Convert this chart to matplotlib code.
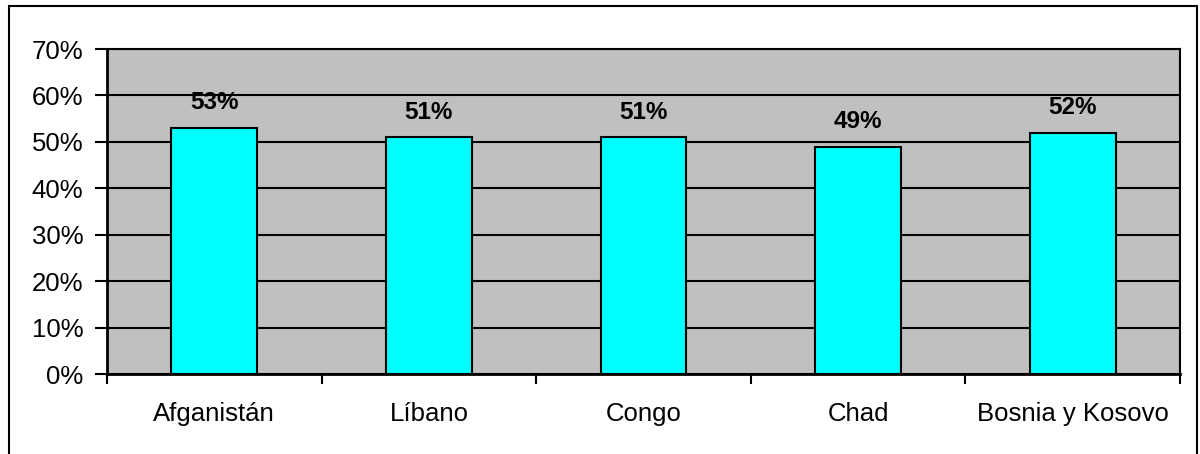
import matplotlib
matplotlib.use("Agg")
import matplotlib.pyplot as plt
from matplotlib.patches import Rectangle
from matplotlib.ticker import FixedLocator, NullFormatter

plt.rcParams['font.family'] = ['Liberation Sans', 'DejaVu Sans']

categories = ["Afganistán", "Líbano", "Congo", "Chad", "Bosnia y Kosovo"]
values = [53, 51, 51, 49, 52]
yticks = [0, 10, 20, 30, 40, 50, 60, 70]
ytick_labels = ["0%", "10%", "20%", "30%", "40%", "50%", "60%", "70%"]

W, H = 1200, 454
fig = plt.figure(figsize=(W / 100, H / 100), dpi=100)
ax = fig.add_axes([107 / W, 1 - 374 / H, (1180 - 107) / W, (374 - 49) / H])
ax.set_facecolor("#C0C0C0")

x = list(range(len(categories)))
ax.set_axisbelow(True)
ax.yaxis.grid(True, color="black", linewidth=1.5)
ax.bar(x, values, width=0.4, color="#00FFFF", edgecolor="black", linewidth=1.5, zorder=3)
for xi, v in zip(x, values):
    ax.text(xi, v + 5.4, f"{v}%", ha="center", va="center", fontsize=17.5, fontweight="bold")

ax.set_xlim(-0.5, len(categories) - 0.5)
ax.set_ylim(0, 70)
ax.set_yticks(yticks)
ax.set_yticklabels(ytick_labels, fontsize=18.5)
ax.tick_params(axis="y", direction="out", length=9, width=1.5, pad=8)

ax.xaxis.set_major_locator(FixedLocator([i - 0.5 for i in range(len(categories) + 1)]))
ax.xaxis.set_major_formatter(NullFormatter())
ax.xaxis.set_minor_locator(FixedLocator(x))
ax.set_xticklabels(categories, minor=True, fontsize=18.5)
ax.tick_params(axis="x", which="major", direction="out", length=7, width=1.5)
ax.tick_params(axis="x", which="minor", length=0, pad=20)

for side in ["top", "right", "bottom", "left"]:
    ax.spines[side].set_color("black")
ax.spines["top"].set_linewidth(1.5)
ax.spines["right"].set_linewidth(1.5)
ax.spines["left"].set_linewidth(2)
ax.spines["bottom"].set_linewidth(2)

fig.patches.append(Rectangle((9 / W, -0.05), (1197 - 9) / W, 1.05 - 6 / H,
                             transform=fig.transFigure, fill=False,
                             edgecolor="black", linewidth=1.5))

fig.savefig("out.png", dpi=100)
